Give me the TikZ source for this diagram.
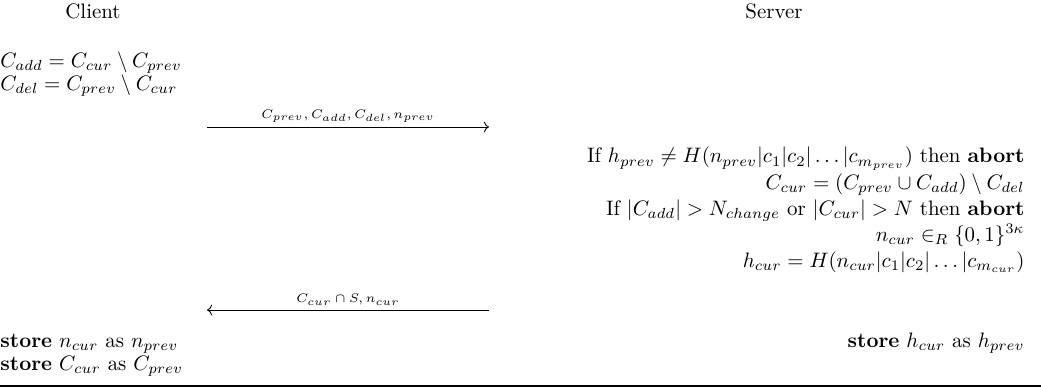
\documentclass[tikz,border=0pt]{standalone}
\usepackage{amsmath,amssymb}
\usepackage{tikz}
\usetikzlibrary{arrows.meta,positioning,calc}

\begin{document}
\begin{tikzpicture}[x=0.0168cm,y=-0.0168cm]
\tikzstyle{party}=[inner sep=0pt,anchor=base]
\tikzstyle{lstep}=[inner sep=0pt,anchor=base west]
\tikzstyle{rstep}=[inner sep=0pt,anchor=base east]
\tikzstyle{msg}=[font=\fontsize{6}{7}\selectfont,inner sep=2pt,above]
\useasboundingbox (0,0) rectangle (1041,388);
% parties
\node[party] (client) at (93,18) {Client};
\node[party] (server) at (774,18) {Server};
% client side
\node[lstep] (cadd) at (0,67) {$C_{add} = C_{cur} \setminus C_{prev}$};
\node[lstep] (cdel) at (0,90) {$C_{del} = C_{prev} \setminus C_{cur}$};
% first message
\coordinate (csend) at (207,127);
\coordinate (srecv) at (489,127);
\draw[->] (csend) -- (srecv) node[msg,midway] (mone) {$C_{prev}, C_{add}, C_{del}, n_{prev}$};
% server side
\node[rstep] (check) at (1025,163) {If $h_{prev} \neq H(n_{prev}|c_1|c_2|\ldots|c_{m_{prev}})$ then \textbf{abort}};
\node[rstep] (ccur) at (1025,189) {$C_{cur} = (C_{prev} \cup C_{add}) \setminus C_{del}$};
\node[rstep] (limit) at (1025,215) {If $|C_{add}| > N_{change}$ or $|C_{cur}| > N$ then \textbf{abort}};
\node[rstep] (ncur) at (1025,241) {$n_{cur} \in_R \{0,1\}^{3\kappa}$};
\node[rstep] (hcur) at (1025,267) {$h_{cur} = H(n_{cur}|c_1|c_2|\ldots|c_{m_{cur}})$};
% second message
\coordinate (ssend) at (489,310);
\coordinate (crecv) at (207,310);
\draw[->] (ssend) -- (crecv) node[msg,midway] (mtwo) {$C_{cur} \cap S, n_{cur}$};
% storing
\node[lstep] (storen) at (0,347) {\textbf{store} $n_{cur}$ as $n_{prev}$};
\node[lstep] (storec) at (0,370) {\textbf{store} $C_{cur}$ as $C_{prev}$};
\node[rstep] (storeh) at (1025,347) {\textbf{store} $h_{cur}$ as $h_{prev}$};
% closing rule
\coordinate (rulel) at (0,386);
\coordinate (ruler) at (1041,386);
\draw[line width=0.8pt] (rulel) -- (ruler);
\end{tikzpicture}
\end{document}
